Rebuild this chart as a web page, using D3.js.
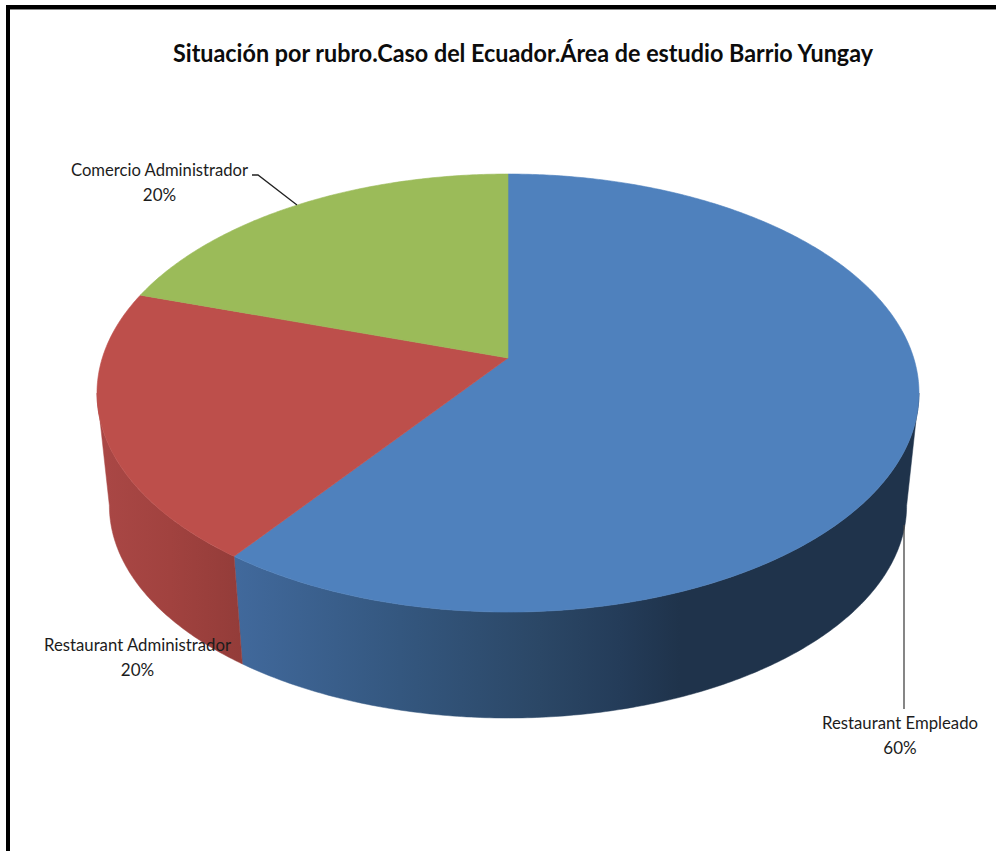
<!DOCTYPE html>
<html><head><meta charset="utf-8">
<script src="https://cdn.jsdelivr.net/npm/d3@7/dist/d3.min.js"></script>
<style>html,body{margin:0;padding:0;background:#fff;overflow:hidden}svg{display:block}text{font-family:Lato,"Open Sans",sans-serif;fill:#1c1c1c}</style>
</head><body>
<script>
const title = "Situación por rubro.Caso del Ecuador.Área de estudio Barrio Yungay";
const categories = ["Restaurant Empleado","Restaurant Administrador","Comercio Administrador"];
const shares = [60,20,20];
const topColors = ["#4f81bd","#bd4f4b","#9bbb59"];
const wallStops = [
  [[235,"#41699c"],[400,"#34577f"],[540,"#2b4766"],[620,"#243c59"],[680,"#1f334b"],[910,"#1f334b"]],
  [[105,"#a94745"],[170,"#a1423f"],[243,"#933c39"]],
  null
];
const W=996,H=851;
const svg=d3.select("body").append("svg").attr("width",W).attr("height",H);
const defs=svg.append("defs");

const k=0.16;
const topPlane={cx:508,cy:358,a:405.7,b:213.4};
const basePlane={cx:508,cy:471.6,a:393.5,b:207};
const project=(p,t)=>{const u=Math.sin(t),v=Math.cos(t),d=1+k*v;return [p.cx+p.a*u/d,p.cy-p.b*v/d];};

const arcs=d3.pie().sort(null).value(d=>d)(shares);
const line=d3.line();
const sample=(s,e)=>{const n=Math.max(2,Math.ceil((e-s)/0.01));return d3.range(n+1).map(i=>s+(e-s)*i/n);};

const tangent=Math.acos(-k);
const frontStart=tangent, frontEnd=2*Math.PI-tangent;

wallStops.forEach((st,i)=>{
  if(!st) return;
  const sc=d3.scaleLinear().domain([st[0][0],st[st.length-1][0]]).range([0,100]);
  const g=defs.append("linearGradient").attr("id","wall"+i).attr("gradientUnits","userSpaceOnUse")
    .attr("x1",st[0][0]).attr("x2",st[st.length-1][0]).attr("y1",0).attr("y2",0);
  st.forEach(s=>g.append("stop").attr("offset",sc(s[0])+"%").attr("stop-color",s[1]));
});

// side walls
arcs.forEach((a,i)=>{
  const s=Math.max(a.startAngle,frontStart), e=Math.min(a.endAngle,frontEnd);
  if(e<=s||!wallStops[i]) return;
  const ts=sample(s,e);
  const pts=ts.map(t=>project(topPlane,t)).concat(ts.slice().reverse().map(t=>project(basePlane,t)));
  svg.append("path").attr("d",line(pts)+"Z").attr("fill","url(#wall"+i+")").attr("stroke","url(#wall"+i+")").attr("stroke-width",0.5);
});

// top faces
arcs.forEach((a,i)=>{
  const pts=[[topPlane.cx,topPlane.cy]].concat(sample(a.startAngle,a.endAngle).map(t=>project(topPlane,t)));
  svg.append("path").attr("d",line(pts)+"Z").attr("fill",topColors[i]).attr("stroke",topColors[i]).attr("stroke-width",0.6);
});

// leaders
const leaders=[[[904,525],[904,709]],[[252,175],[258,175],[297,205]]];
leaders.forEach((l,i)=>svg.append("path").attr("d",line(l)).attr("fill","none")
  .attr("stroke",i?"#222":"#444").attr("stroke-width",1.3));

// frame
svg.append("rect").attr("x",6).attr("y",5).attr("width",W).attr("height",4).attr("fill","#000");
svg.append("rect").attr("x",6).attr("y",5).attr("width",4).attr("height",H).attr("fill","#000");
svg.append("rect").attr("x",10).attr("y",9).attr("width",W).attr("height",1).attr("fill","#888");

// title
svg.append("text").attr("x",523).attr("y",62).attr("text-anchor","middle")
  .attr("font-size",25).attr("font-weight",700).style("fill","#0c0c0c")
  .attr("textLength",700).attr("lengthAdjust","spacingAndGlyphs").text(title);

// labels
const labelPos=[[900,729],[137.5,651],[159.5,176]];
const labelWidths=[156,187,177];
categories.forEach((c,i)=>{
  const [x,y]=labelPos[i];
  const t=svg.append("text").attr("text-anchor","middle").attr("font-size",17);
  t.append("tspan").attr("x",x).attr("y",y).attr("textLength",labelWidths[i]).attr("lengthAdjust","spacingAndGlyphs").text(c);
  t.append("tspan").attr("x",x).attr("y",y+25).text(shares[i]+"%");
});
</script>
</body></html>
